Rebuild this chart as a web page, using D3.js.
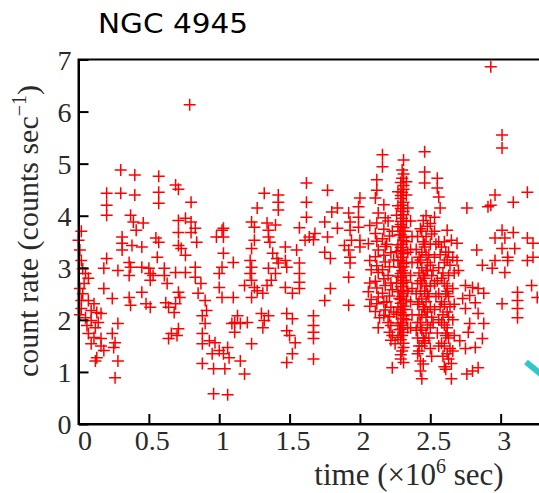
<!DOCTYPE html>
<html>
<head>
<meta charset="utf-8">
<script src="https://cdn.jsdelivr.net/npm/d3@7/dist/d3.min.js"></script>
<style>
  html, body { margin: 0; padding: 0; background: #fff; }
  svg { display: block; }
</style>
</head>
<body>
<svg id="chart" width="539" height="493"></svg>
<script>
// ---------- DATA (time in 10^6 s, count rate in counts/s) ----------
const titleText = "NGC 4945";
const xTickValues = [0, 0.5, 1, 1.5, 2, 2.5, 3];
const xTickLabels = ["0", "0.5", "1", "1.5", "2", "2.5", "3"];
const yTickValues = [0, 1, 2, 3, 4, 5, 6, 7];
const yTickLabels = ["0", "1", "2", "3", "4", "5", "6", "7"];

const segment1 = [[0.30,4.88],[0.40,4.78],[0.20,4.43],[0.30,4.43],[0.40,4.40],[0.20,4.20],[0.20,4.01],[0.37,4.01],[0.39,3.88],[0.46,3.86],[0.41,3.72],[0.31,3.59],[0.31,3.47],[0.31,3.34],[0.38,3.43],[0.45,3.40],[0.00,3.53],[0.01,3.34],[0.02,3.14],[0.02,3.70],[0.03,2.98],[0.20,3.18],[0.18,2.99],[0.28,2.95],[0.36,3.10],[0.37,3.01],[0.36,2.85],[0.45,3.01],[0.50,2.99],[0.05,2.89],[0.07,2.80],[0.04,2.70],[0.01,2.60],[0.18,2.60],[0.24,2.41],[0.36,2.43],[0.37,2.28],[0.45,2.53],[0.48,2.31],[0.02,2.37],[0.07,2.37],[0.11,2.31],[0.02,2.22],[0.09,2.18],[0.13,2.14],[0.05,2.04],[0.09,1.99],[0.14,1.95],[0.06,1.89],[0.12,1.85],[0.07,1.74],[0.11,1.66],[0.16,1.64],[0.09,1.54],[0.16,1.50],[0.18,1.41],[0.13,1.27],[0.12,1.21],[0.24,1.74],[0.26,1.56],[0.28,1.93],[0.25,1.47],[0.28,1.21],[0.26,0.89],[0.16,2.12],[0.01,2.10],[0.03,2.50]];

const segment2 = [[0.57,4.76],[0.57,4.45],[0.57,4.24],[0.69,4.59],[0.71,4.51],[0.80,4.26],[0.55,3.57],[0.57,3.49],[0.56,3.20],[0.71,3.91],[0.76,3.95],[0.80,3.88],[0.83,3.76],[0.80,3.68],[0.84,3.49],[0.71,3.68],[0.71,3.43],[0.73,3.37],[0.76,3.24],[0.51,2.89],[0.53,2.85],[0.51,2.76],[0.61,2.99],[0.61,2.85],[0.63,2.70],[0.69,2.91],[0.76,2.91],[0.83,3.01],[0.51,2.24],[0.62,2.33],[0.64,2.24],[0.68,2.14],[0.71,2.53],[0.72,2.43],[0.69,2.31],[0.83,2.82],[0.87,2.70],[0.85,2.51],[0.90,2.37],[0.91,2.18],[0.88,2.08],[0.90,1.93],[0.88,1.74],[0.88,1.54],[0.88,1.16],[0.71,1.83],[0.66,1.74],[0.64,1.64],[0.70,1.70],[1.00,2.62],[1.02,2.43],[1.00,2.89],[1.03,3.59],[0.98,3.59],[1.03,3.76],[1.03,3.28],[1.02,3.01],[0.93,1.60],[0.95,1.35],[0.97,1.56],[1.00,1.41],[1.03,1.35],[0.96,1.06],[1.04,1.06],[0.96,0.58],[1.06,0.56],[0.79,6.13],[1.02,3.72]];

const segment3 = [[1.10,3.10],[1.10,2.43],[1.13,2.08],[1.11,1.95],[1.09,1.93],[1.15,1.93],[1.11,1.76],[1.20,1.95],[1.30,2.12],[1.32,1.99],[1.35,2.08],[1.31,1.85],[1.06,1.47],[1.07,1.27],[1.15,1.21],[1.18,0.96],[1.23,1.54],[1.32,4.43],[1.42,4.40],[1.42,4.26],[1.42,4.11],[1.27,4.15],[1.23,3.88],[1.25,3.78],[1.34,3.86],[1.40,3.82],[1.35,3.72],[1.35,3.59],[1.36,3.49],[1.25,3.53],[1.23,3.37],[1.47,3.40],[1.38,3.28],[1.41,3.18],[1.42,3.09],[1.48,3.01],[1.35,2.99],[1.22,3.14],[1.23,3.01],[1.22,2.89],[1.23,2.76],[1.18,2.66],[1.25,2.62],[1.27,2.56],[1.31,2.51],[1.23,2.43],[1.34,2.66],[1.37,2.76],[1.40,2.89],[1.47,2.62],[1.52,2.51],[1.57,2.60],[1.57,2.72],[1.57,2.89],[1.57,3.09],[1.55,3.34],[1.47,3.14],[1.48,2.12],[1.52,2.02],[1.48,1.79],[1.50,1.70],[1.54,1.56],[1.52,1.35],[1.48,1.18],[1.57,3.77]];

const segment4 = [[1.62,4.63],[1.62,4.26],[1.62,3.97],[1.77,4.49],[1.61,3.53],[1.64,3.59],[1.68,3.66],[1.67,3.54],[1.67,2.08],[1.67,1.89],[1.67,1.76],[1.67,1.64],[1.67,1.25],[1.75,2.37],[1.79,2.60],[1.75,3.30],[1.79,3.18],[1.77,3.59],[1.75,3.88],[1.80,4.07],[1.84,4.15],[1.84,3.76],[1.92,4.05],[1.93,3.88],[1.93,3.72],[1.94,3.53],[1.92,3.34],[1.93,3.20],[1.93,3.09],[1.92,2.82],[1.92,2.28],[1.89,3.43],[2.00,4.34],[1.99,4.17],[1.99,3.97],[1.99,3.78],[2.00,3.53],[2.00,3.40]];

const segment5 = [
  [2.16,5.17],[2.16,4.94],[2.31,5.07],[2.46,5.23],[2.46,4.84],[2.46,4.63],[2.55,4.72],[2.55,4.53],
  [2.12,4.69],[2.12,4.49],[2.11,4.34],[2.13,4.05],[2.12,3.86],[2.11,3.66],[2.12,3.51],[2.13,3.34],[2.11,3.21],[2.12,3.04],[2.13,2.91],[2.11,2.74],[2.12,2.61],[2.13,2.44],[2.12,2.31],[2.11,2.16],[2.14,2.04],[2.13,1.85],
  [2.17,4.21],[2.18,3.96],[2.17,3.74],[2.16,3.56],[2.18,3.41],[2.17,3.24],[2.18,3.11],[2.16,2.96],[2.17,2.79],[2.18,2.66],[2.16,2.51],[2.17,2.34],[2.18,2.19],[2.17,2.09],
  [2.07,3.81],[2.06,3.46],[2.07,3.14],[2.08,2.96],[2.07,2.71],[2.06,2.54],[2.08,2.39],[2.07,2.26],
  [2.21,3.61],[2.22,3.29],[2.21,3.02],[2.22,2.71],[2.21,2.46],[2.22,2.24],[2.21,2.06],[2.22,1.89],[2.21,1.76],[2.22,1.61],[2.25,1.54],[2.23,1.08],
  [2.27,4.46],[2.27,4.19],[2.26,4.01],[2.27,3.79],[2.28,3.63],[2.27,3.44],[2.26,3.31],[2.27,3.14],[2.28,3.01],[2.27,2.84],[2.26,2.71],[2.27,2.54],[2.28,2.41],[2.27,2.24],[2.26,2.11],[2.27,1.94],[2.28,1.81],[2.27,1.66],
  [2.30,4.88],[2.30,4.72],[2.31,4.58],[2.30,4.45],[2.29,4.33],[2.30,4.20],[2.31,4.08],[2.30,3.95],[2.29,3.83],[2.30,3.70],[2.31,3.58],[2.30,3.45],[2.29,3.33],[2.30,3.20],[2.31,3.08],[2.30,2.95],[2.29,2.82],[2.30,2.70],[2.31,2.57],[2.30,2.45],[2.29,2.32],[2.30,2.20],[2.31,2.08],[2.30,1.95],[2.29,1.82],[2.30,1.70],[2.31,1.55],[2.30,1.40],[2.29,1.25],
  [2.33,4.65],[2.33,4.40],[2.34,4.15],[2.33,3.90],[2.32,3.70],[2.33,3.50],[2.34,3.30],[2.33,3.10],[2.32,2.90],[2.33,2.72],[2.34,2.55],[2.33,2.38],[2.32,2.20],[2.33,2.00],[2.34,1.85],
  [2.36,3.90],[2.37,3.60],[2.36,3.35],[2.37,3.10],[2.36,2.85],[2.37,2.60],[2.36,2.35],[2.37,2.10],[2.36,1.85],
  [2.41,3.60],[2.40,3.35],[2.41,3.10],[2.42,2.90],[2.41,2.70],[2.40,2.50],[2.41,2.30],[2.42,2.10],[2.41,1.95],[2.40,1.80],[2.41,1.65],[2.42,1.50],[2.41,1.35],[2.43,1.21],[2.43,1.02],[2.44,0.87],
  [2.45,3.91],[2.44,3.70],[2.45,3.50],[2.44,3.30],[2.43,3.15],[2.44,3.00],[2.45,2.85],[2.44,2.70],[2.43,2.55],[2.44,2.40],[2.45,2.25],[2.44,2.10],[2.43,1.95],[2.44,1.80],[2.45,1.65],[2.44,1.50],
  [2.47,4.00],[2.48,3.80],[2.47,3.60],[2.46,3.40],[2.47,3.25],[2.48,3.10],[2.47,2.95],[2.46,2.80],[2.47,2.65],[2.48,2.50],[2.47,2.35],[2.46,2.20],[2.47,2.05],[2.48,1.90],[2.47,1.75],[2.46,1.55],
  [2.50,3.85],[2.51,3.65],[2.50,3.45],[2.49,3.25],[2.50,3.05],[2.51,2.85],[2.50,2.65],[2.49,2.45],[2.50,2.25],[2.51,2.05],[2.50,1.85],[2.49,1.65],[2.50,1.45],[2.51,1.30],
  [2.53,3.97],[2.53,3.70],[2.54,3.45],[2.53,3.20],[2.52,2.95],[2.53,2.70],[2.54,2.45],[2.53,2.20],[2.52,1.95],
  [2.56,4.36],[2.57,4.15],[2.56,3.50],[2.57,3.25],[2.56,3.00],[2.55,2.75],[2.56,2.50],[2.57,2.25],[2.56,2.00],[2.55,1.75],[2.56,1.50],
  [2.62,3.72],[2.60,3.50],[2.61,3.30],[2.60,3.10],[2.59,2.90],[2.60,2.70],[2.61,2.50],[2.60,2.30],[2.59,2.10],[2.60,1.90],[2.61,1.70],[2.60,1.50],[2.59,1.30],[2.60,1.10],
  [2.65,3.53],[2.63,3.30],[2.64,3.05],[2.63,2.85],[2.62,2.65],[2.63,2.45],[2.64,2.25],[2.63,2.05],[2.62,1.85],[2.63,1.65],[2.64,1.45],[2.63,1.25],[2.65,1.16],[2.65,0.87],
  [2.66,3.20],[2.67,2.90],[2.66,2.60],[2.67,2.30],[2.66,2.00],[2.67,1.70],[2.66,1.40]
];

const segment5b = [
  [2.31,4.80],[2.29,4.64],[2.31,4.51],[2.29,4.39],[2.31,4.26],[2.29,4.14],[2.31,4.02],[2.29,3.89],[2.31,3.77],[2.29,3.64],[2.31,3.52],[2.29,3.39],[2.31,3.27],[2.29,3.14],[2.31,3.02],[2.29,2.89],[2.31,2.76],[2.29,2.64],[2.31,2.51],[2.29,2.39],[2.31,2.26],[2.29,2.14],[2.31,2.02],[2.29,1.89],[2.31,1.76],[2.29,1.62],[2.31,1.47],[2.29,1.33],[2.31,1.18],
  [2.20,3.90],[2.23,3.70],[2.19,3.45],[2.24,3.15],[2.20,2.85],[2.23,2.58],[2.19,2.35],[2.24,2.15],[2.20,1.95],[2.23,1.70],
  [2.43,3.75],[2.46,3.45],[2.42,3.20],[2.48,2.95],[2.43,2.75],[2.46,2.55],[2.42,2.35],[2.48,2.15],[2.43,1.85],[2.46,1.60],[2.42,1.40],[2.45,1.15],
  [2.58,3.40],[2.62,3.15],[2.58,2.80],[2.62,2.55],[2.58,2.35],[2.62,2.15],[2.58,1.95],[2.62,1.75],[2.58,1.55],[2.62,1.35],[2.61,1.05]
];

const segment6 = [[2.93,6.86],[3.01,5.55],[3.01,5.30],[2.76,4.15],[2.93,4.20],[2.96,4.40],[3.09,4.26],[3.19,4.45],[2.91,4.17],[3.01,3.72],[3.09,3.68],[2.96,3.57],[3.03,3.57],[3.10,3.37],[3.01,3.37],[2.83,3.34],[2.87,3.05],[2.94,2.99],[2.96,3.14],[3.05,3.14],[3.05,3.20],[3.03,2.91],[3.19,3.57],[3.23,3.47],[3.19,3.14],[3.23,3.20],[3.01,2.31],[3.12,2.53],[3.12,2.37],[3.12,2.22],[3.12,2.04],[3.22,2.66],[3.26,2.43],[2.84,1.08],[2.76,0.96],[2.80,1.02],[2.69,3.47],[2.69,3.14],[2.70,2.95],[2.75,2.66],[2.80,2.62],[2.84,2.60],[2.78,2.47],[2.88,2.51],[2.73,2.41],[2.82,2.33],[2.75,2.22],[2.84,2.12],[2.88,1.93],[2.78,1.93],[2.77,1.76],[2.87,1.64],[2.82,1.47],[2.75,1.45],[2.71,1.60]];

// ---------- DRAWING ----------
const svg = d3.select("#chart");
const xScale = d3.scaleLinear().domain([0, 3.5]).range([78.5, 571]);
const yScale = d3.scaleLinear().domain([0, 7]).range([424, 59.5]);

const serif = "'Liberation Serif', 'Times New Roman', serif";

// frame (top and right edges)
svg.append("rect")
  .attr("x", xScale(0)).attr("y", yScale(7))
  .attr("width", xScale(3.5) - xScale(0))
  .attr("height", yScale(0) - yScale(7))
  .attr("fill", "none").attr("stroke", "#000").attr("stroke-width", 2);

// points
const allPoints = [].concat(segment1, segment2, segment3, segment4, segment5, segment5b, segment6);
svg.append("g").selectAll("path").data(allPoints).join("path")
  .attr("transform", d => `translate(${xScale(d[0])},${yScale(d[1])})`)
  .attr("d", "M-6,0H6M0,-6V6")
  .attr("stroke", "#ff0000").attr("stroke-width", 1.5).attr("fill", "none");

// axes
const xAxis = d3.axisBottom(xScale)
  .tickValues(xTickValues)
  .tickFormat((d, i) => xTickLabels[i])
  .tickSizeInner(-10).tickSizeOuter(0).tickPadding(6);
const gx = svg.append("g").attr("transform", `translate(0,${yScale(0)})`).call(xAxis);

const yAxis = d3.axisLeft(yScale)
  .tickValues(yTickValues)
  .tickFormat((d, i) => yTickLabels[i])
  .tickSizeInner(-10).tickSizeOuter(0).tickPadding(7);
const gy = svg.append("g").attr("transform", `translate(${xScale(0)},0)`).call(yAxis);

[gx, gy].forEach(g => {
  g.select(".domain").attr("stroke", "#000").attr("stroke-width", 2);
  g.selectAll(".tick line").attr("stroke", "#000").attr("stroke-width", 2);
  g.selectAll(".tick text").attr("fill", "#2a2a2a")
    .style("font-family", serif).style("font-size", "28px");
});
gx.selectAll(".tick text").attr("dx", d => d === 0 ? 6 : 3);
gy.selectAll(".tick text").attr("dy", "0.34em");

// x label
const xl = svg.append("text")
  .attr("x", 409).attr("y", 485)
  .attr("text-anchor", "middle")
  .attr("fill", "#2a2a2a")
  .style("font-family", serif).style("font-size", "31px");
xl.append("tspan").text("time (×10");
xl.append("tspan").text("6").attr("dy", -12).style("font-size", "20px");
xl.append("tspan").text(" sec)").attr("dy", 12);

// y label
const yl = svg.append("text")
  .attr("transform", "translate(38,231) rotate(-90)")
  .attr("text-anchor", "middle")
  .attr("fill", "#2a2a2a")
  .style("font-family", serif).style("font-size", "30px");
yl.append("tspan").text("count rate (counts sec");
yl.append("tspan").text("−1").attr("dy", -12).style("font-size", "20px");
yl.append("tspan").text(")").attr("dy", 12);

// title
svg.append("text")
  .attr("x", 98).attr("y", 33)
  .attr("textLength", 150).attr("lengthAdjust", "spacingAndGlyphs")
  .attr("fill", "#000")
  .style("font-family", "'DejaVu Sans', sans-serif").style("font-size", "27px")
  .text(titleText);

// cyan annotation stroke at lower right
svg.append("line")
  .attr("x1", 526).attr("y1", 362).attr("x2", 548).attr("y2", 380)
  .attr("stroke", "#33c8c8").attr("stroke-width", 6);
</script>
</body>
</html>
